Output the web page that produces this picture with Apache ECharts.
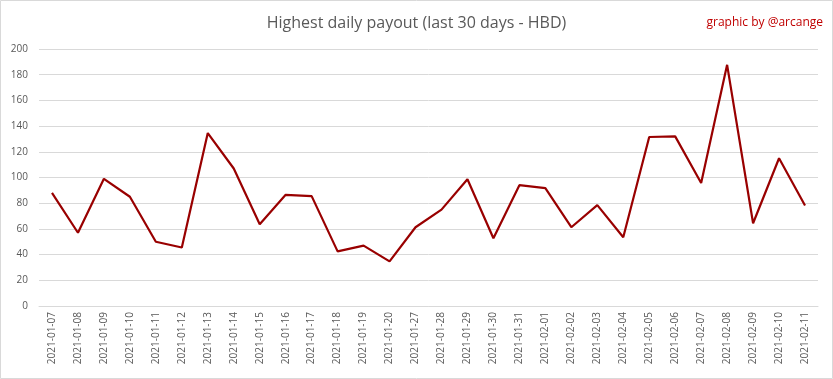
<!DOCTYPE html>
<html><head><meta charset="utf-8">
<script src="https://cdn.jsdelivr.net/npm/echarts@6/dist/echarts.min.js"></script>
<style>html,body{margin:0;padding:0;background:#fff}#c{width:833px;height:379px}</style>
</head><body><div id="c"></div>
<script>
const categories = ["2021-01-07","2021-01-08","2021-01-09","2021-01-10","2021-01-11","2021-01-12","2021-01-13","2021-01-14","2021-01-15","2021-01-16","2021-01-17","2021-01-18","2021-01-19","2021-01-20","2021-01-27","2021-01-28","2021-01-29","2021-01-30","2021-01-31","2021-02-01","2021-02-02","2021-02-03","2021-02-04","2021-02-05","2021-02-06","2021-02-07","2021-02-08","2021-02-09","2021-02-10","2021-02-11"];
const payout = [88,57,99,85,50,45.5,134.6,107,63.6,86.5,85.5,42.5,47,34.7,61.3,75,98.6,52.7,94,91.8,61.3,78.5,53.5,131.5,132,95.7,187.7,64.4,115,78.2];
const chart = echarts.init(document.getElementById('c'));
chart.setOption({
  animation:false,
  title:{text:'Highest daily payout (last 30 days - HBD)',left:'center',top:10,textStyle:{fontFamily:'Open Sans',fontSize:16,fontWeight:'normal',color:'#595959'}},
  graphic:[
    {type:'rect',shape:{x:0.5,y:0.5,width:832,height:378},style:{fill:null,stroke:'#d9d9d9',lineWidth:1},silent:true},
    {type:'text',right:10,top:17,style:{text:'graphic by @arcange',fontFamily:'Open Sans',fontSize:12,fill:'#c00000'}}
  ],
  grid:{left:39,right:15,top:49,bottom:73},
  xAxis:{type:'category',data:categories,boundaryGap:true,
    axisLine:{lineStyle:{color:'#d9d9d9'}},axisTick:{show:false},
    axisLabel:{rotate:90,interval:0,fontFamily:'Open Sans',fontSize:10,color:'#595959',margin:6}},
  yAxis:{type:'value',min:0,max:200,interval:20,
    axisLine:{show:false},axisTick:{show:false},
    splitLine:{lineStyle:{color:'#d9d9d9'}},
    axisLabel:{fontFamily:'Open Sans',fontSize:10,color:'#595959',margin:11}},
  series:[{type:'line',data:payout,symbol:'none',lineStyle:{color:'#990000',width:2.2}}]
});
</script></body></html>
